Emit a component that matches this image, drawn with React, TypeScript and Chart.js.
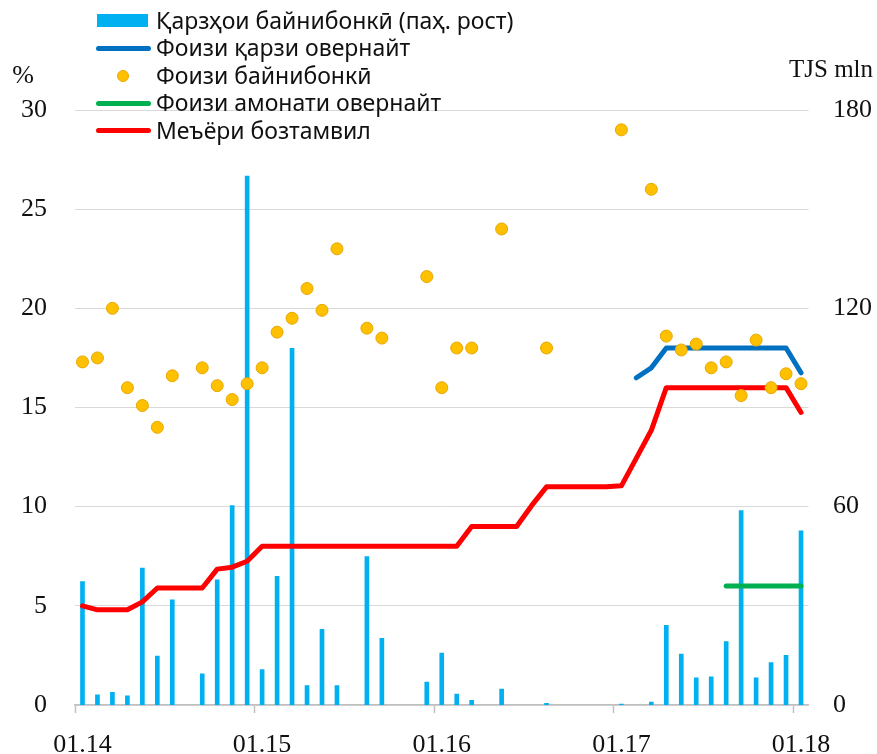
import React, { useEffect, useRef } from "react";
import { Chart, registerables } from "chart.js";

Chart.register(...registerables);

const monthLabels = [
  "01.14", "02.14", "03.14", "04.14", "05.14", "06.14", "07.14", "08.14", "09.14", "10.14", "11.14", "12.14",
  "01.15", "02.15", "03.15", "04.15", "05.15", "06.15", "07.15", "08.15", "09.15", "10.15", "11.15", "12.15",
  "01.16", "02.16", "03.16", "04.16", "05.16", "06.16", "07.16", "08.16", "09.16", "10.16", "11.16", "12.16",
  "01.17", "02.17", "03.17", "04.17", "05.17", "06.17", "07.17", "08.17", "09.17", "10.17", "11.17", "12.17",
  "01.18",
];

const xTickLabels = ["01.14", "01.15", "01.16", "01.17", "01.18"];

// Interbank loans, TJS mln (right axis)
const interbankLoans = [
  37.3, 3.1, 3.8, 2.8, 41.4, 14.8, 31.8, null, 9.4, 37.9, 60.3, 160,
  10.7, 38.9, 107.9, 5.9, 22.9, 5.9, null, 44.9, 20.2, null, null, 6.9,
  15.7, 3.3, 1.4, null, 4.8, null, null, 0.5, null, null, null, null,
  0.3, null, 0.9, 24.1, 15.4, 8.2, 8.5, 19.2, 58.8, 8.2, 12.8, 15.0,
  52.7,
];

// Interbank rate, %
const interbankRate = [
  17.3, 17.5, 20.0, 16.0, 15.1, 14.0, 16.6, null, 17.0, 16.1, 15.4, 16.2,
  17.0, 18.8, 19.5, 21.0, 19.9, 23.0, null, 19.0, 18.5, null, null, 21.6,
  16.0, 18.0, 18.0, null, 24.0, null, null, 18.0, null, null, null, null,
  29.0, null, 26.0, 18.6, 17.9, 18.2, 17.0, 17.3, 15.6, 18.4, 16.0, 16.7,
  16.2,
];

// Overnight loan rate, %
const overnightLoanRate = [
  null, null, null, null, null, null, null, null, null, null, null, null,
  null, null, null, null, null, null, null, null, null, null, null, null,
  null, null, null, null, null, null, null, null, null, null, null, null,
  null, 16.5, 17.0, 18.0, 18.0, 18.0, 18.0, 18.0, 18.0, 18.0, 18.0, 18.0,
  16.75,
];

// Overnight deposit rate, %
const overnightDepositRate = [
  null, null, null, null, null, null, null, null, null, null, null, null,
  null, null, null, null, null, null, null, null, null, null, null, null,
  null, null, null, null, null, null, null, null, null, null, null, null,
  null, null, null, null, null, null, null, 6.0, 6.0, 6.0, 6.0, 6.0,
  6.0,
];

// Refinancing rate, %
const refinancingRate = [
  5.0, 4.8, 4.8, 4.8, 5.2, 5.9, 5.9, 5.9, 5.9, 6.85, 6.95, 7.25,
  8.0, 8.0, 8.0, 8.0, 8.0, 8.0, 8.0, 8.0, 8.0, 8.0, 8.0, 8.0,
  8.0, 8.0, 9.0, 9.0, 9.0, 9.0, 10.05, 11.0, 11.0, 11.0, 11.0, 11.0,
  11.05, 12.45, 13.85, 16.0, 16.0, 16.0, 16.0, 16.0, 16.0, 16.0, 16.0, 16.0,
  14.75,
];

const legendItems = [
  { label: "Қарзҳои байнибонкӣ (паҳ. рост)", kind: "bar", color: "#00B0F0" },
  { label: "Фоизи қарзи овернайт", kind: "line", color: "#0070C0" },
  { label: "Фоизи байнибонкӣ", kind: "dot", color: "#FFC000" },
  { label: "Фоизи амонати овернайт", kind: "line", color: "#00B050" },
  { label: "Меъёри бозтамвил", kind: "line", color: "#FF0000" },
];

const serif = '"Liberation Serif", "Times New Roman", serif';
const sans = '"Noto Sans", "DejaVu Sans", sans-serif';

export default function App() {
  const canvasRef = useRef<HTMLCanvasElement | null>(null);

  useEffect(() => {
    const canvas = canvasRef.current;
    if (!canvas) return;
    const lineCommon = {
      type: "line" as const,
      pointRadius: 0,
      borderWidth: 5,
      borderCapStyle: "round" as const,
      borderJoinStyle: "round" as const,
      spanGaps: false,
      fill: false,
      yAxisID: "y",
      tension: 0,
    };
    const chart = new Chart(canvas, {
      type: "bar",
      data: {
        labels: monthLabels,
        datasets: [
          {
            type: "line",
            label: "Фоизи байнибонкӣ",
            data: interbankRate,
            showLine: false,
            pointRadius: 6,
            pointBackgroundColor: "#FFC000",
            pointBorderColor: "#E6A700",
            pointBorderWidth: 1,
            yAxisID: "y",
            order: 1,
          },
          { ...lineCommon, label: "Фоизи қарзи овернайт", data: overnightLoanRate, borderColor: "#0070C0", order: 2 },
          { ...lineCommon, label: "Меъёри бозтамвил", data: refinancingRate, borderColor: "#FF0000", order: 3 },
          { ...lineCommon, label: "Фоизи амонати овернайт", data: overnightDepositRate, borderColor: "#00B050", order: 4 },
          {
            type: "bar",
            label: "Қарзҳои байнибонкӣ (паҳ. рост)",
            data: interbankLoans,
            backgroundColor: "#00B0F0",
            barThickness: 4,
            yAxisID: "y1",
            order: 5,
          },
        ] as any,
      },
      options: {
        responsive: false,
        animation: false,
        layout: { padding: { top: 110, left: 0, right: 0, bottom: 0 } },
        plugins: { legend: { display: false }, tooltip: { enabled: false } },
        scales: {
          x: {
            type: "category",
            offset: true,
            grid: {
              offset: true,
              drawOnChartArea: false,
              drawTicks: true,
              tickLength: 8,
              tickWidth: 1.5,
              tickColor: (ctx: any) =>
                ctx.index !== undefined && ctx.index % 12 === 0 ? "#c0c0c0" : "rgba(0,0,0,0)",
            },
            border: { display: true, color: "#c0c0c0", width: 1.5 },
            ticks: {
              autoSkip: false,
              maxRotation: 0,
              minRotation: 0,
              padding: 17,
              color: "#111",
              font: { family: serif, size: 26 },
              callback: (_v: any, i: number) =>
                xTickLabels.includes(monthLabels[i]) ? monthLabels[i] : "",
            },
            afterFit: (s: any) => {
              s.height = 49;
            },
          },
          y: {
            position: "left",
            min: 0,
            max: 30,
            ticks: { stepSize: 5, padding: 28, color: "#111", font: { family: serif, size: 26 } },
            grid: { color: "#d9d9d9", drawTicks: false, lineWidth: 1 },
            border: { display: false },
            afterFit: (s: any) => {
              s.width = 75;
            },
          },
          y1: {
            position: "right",
            min: 0,
            max: 180,
            ticks: { stepSize: 60, padding: 24.5, color: "#111", font: { family: serif, size: 26 } },
            grid: { display: false, drawTicks: false },
            border: { display: false },
            afterFit: (s: any) => {
              s.width = 68.5;
            },
          },
        },
      } as any,
    });
    return () => chart.destroy();
  }, []);

  return (
    <div style={{ position: "fixed", left: 0, top: 0, width: 877, height: 754, background: "#fff" }}>
      <canvas ref={canvasRef} width={877} height={754} style={{ position: "absolute", left: 0, top: 0 }} />
      <div
        style={{
          position: "absolute",
          left: 23,
          top: 75,
          transform: "translate(-50%, -50%)",
          fontFamily: serif,
          fontSize: 26,
          color: "#111",
          lineHeight: 1,
        }}
      >
        %
      </div>
      <div
        style={{
          position: "absolute",
          left: 831,
          top: 68,
          transform: "translate(-50%, -50%)",
          fontFamily: serif,
          fontSize: 25,
          color: "#111",
          lineHeight: 1,
          whiteSpace: "nowrap",
        }}
      >
        TJS mln
      </div>
      {legendItems.map((it, i) => {
        const center = 20.5 + 27.6 * i;
        return (
          <div key={i}>
            {it.kind === "bar" && (
              <div
                style={{
                  position: "absolute",
                  left: 97,
                  top: center - 6.5,
                  width: 51,
                  height: 13,
                  background: it.color,
                }}
              />
            )}
            {it.kind === "line" && (
              <div
                style={{
                  position: "absolute",
                  left: 96,
                  top: center - 2.5,
                  width: 55,
                  height: 5,
                  borderRadius: 2.5,
                  background: it.color,
                }}
              />
            )}
            {it.kind === "dot" && (
              <div
                style={{
                  position: "absolute",
                  left: 117,
                  top: center - 6,
                  width: 12,
                  height: 12,
                  boxSizing: "border-box",
                  borderRadius: "50%",
                  background: it.color,
                  border: "1px solid #E6A700",
                }}
              />
            )}
            <div
              style={{
                position: "absolute",
                left: 156,
                top: center,
                transform: "translateY(-50%)",
                fontFamily: sans,
                fontSize: 23,
                lineHeight: 1.2,
                color: "#111",
                whiteSpace: "nowrap",
              }}
            >
              {it.label}
            </div>
          </div>
        );
      })}
    </div>
  );
}
